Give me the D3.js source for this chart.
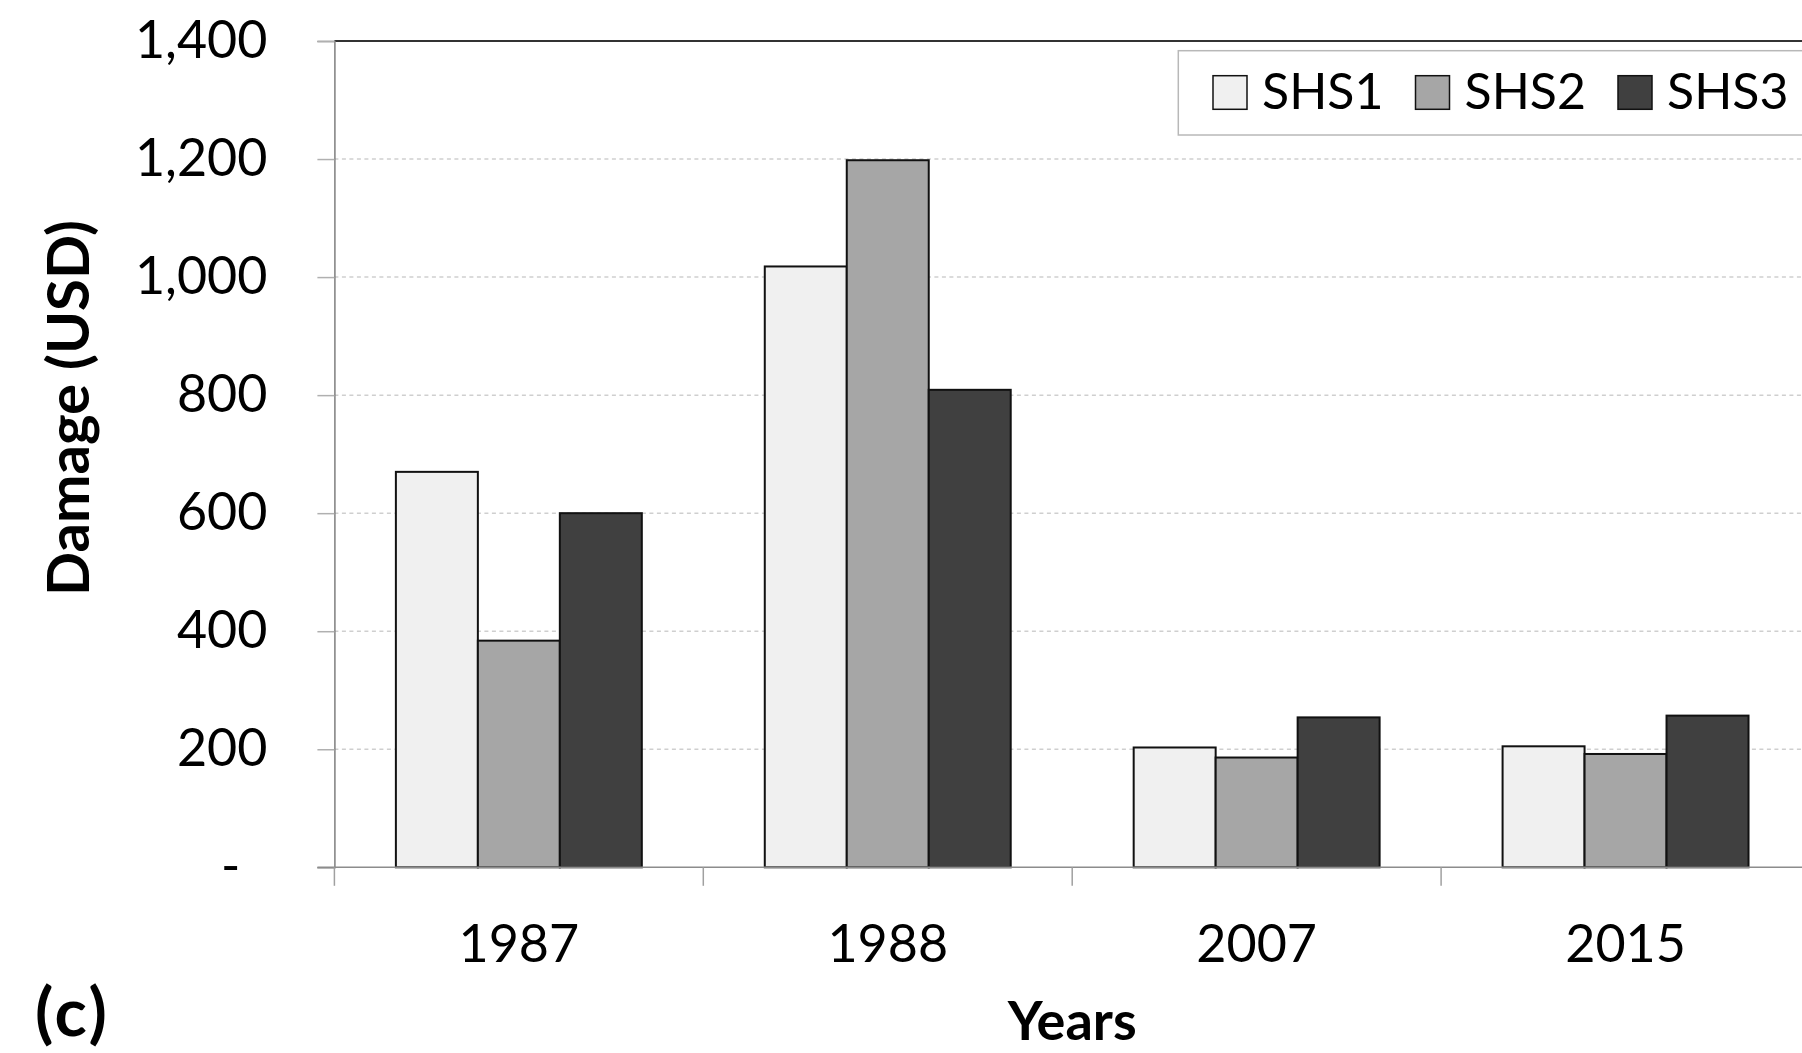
<!DOCTYPE html>
<html>
<head>
<meta charset="utf-8">
<script src="https://cdn.jsdelivr.net/npm/d3@7"></script>
<style>
  html, body { margin: 0; padding: 0; background: #fff; }
  svg { display: block; }
  text { font-family: Lato, "Open Sans", "Liberation Sans", sans-serif; }
</style>
</head>
<body>
<svg id="chart" width="1802" height="1053"></svg>
<script>
// ---- data ----
const categories = ["1987", "1988", "2007", "2015"];
const seriesNames = ["SHS1", "SHS2", "SHS3"];
const shs1 = [670, 1018, 203, 205];
const shs2 = [384, 1198, 186, 192];
const shs3 = [600, 809, 254, 257];
const yTicks = [0, 200, 400, 600, 800, 1000, 1200, 1400];
const seriesColors = ["#f0f0f0", "#a6a6a6", "#404040"];

const seriesValues = [shs1, shs2, shs3];

// ---- layout ----
const W = 1802, H = 1053;
const plotLeft = 334.4, plotTop = 41, plotBottom = 867.3;
const step = 368.9;
const plotRight = plotLeft + step * categories.length;

const svg = d3.select("#chart");
svg.append("rect").attr("width", W).attr("height", H).attr("fill", "#fff");

const y = d3.scaleLinear().domain([0, 1400]).range([plotBottom, plotTop]);
const x0 = d3.scaleBand().domain(categories).range([plotLeft, plotRight])
  .paddingInner(1 / 3).paddingOuter(1 / 6);
const x1 = d3.scaleBand().domain(seriesNames).range([0, x0.bandwidth()]);
const color = d3.scaleOrdinal().domain(seriesNames).range(seriesColors);

// gridlines
svg.append("g")
  .selectAll("line")
  .data(yTicks.filter(v => v > 0 && v < 1400))
  .join("line")
  .attr("x1", plotLeft).attr("x2", plotRight)
  .attr("y1", d => y(d)).attr("y2", d => y(d))
  .attr("stroke", "#cfcfcf").attr("stroke-width", 1.5)
  .attr("stroke-dasharray", "4,3.5");

// top border
svg.append("line")
  .attr("x1", plotLeft).attr("x2", plotRight)
  .attr("y1", y(1400)).attr("y2", y(1400))
  .attr("stroke", "#333").attr("stroke-width", 2);

// y axis
const yAxis = d3.axisLeft(y).tickValues(yTicks).tickSize(17).tickPadding(50)
  .tickFormat(d => d === 0 ? "-" : d3.format(",")(d));
const gy = svg.append("g").attr("transform", `translate(${plotLeft},0)`).call(yAxis);
gy.select(".domain").attr("stroke", "#7f7f7f").attr("stroke-width", 1.5);
gy.selectAll(".tick line").attr("stroke", "#b0b0b0").attr("stroke-width", 1.5);
gy.selectAll(".tick text")
  .attr("font-size", 52).attr("fill", "#000")
  .attr("font-family", "Lato, 'Open Sans', sans-serif")
  .attr("dx", d => d === 0 ? -27 : 0);

// bars
const groups = svg.append("g")
  .selectAll("g")
  .data(categories)
  .join("g")
  .attr("transform", d => `translate(${x0(d)},0)`);

groups.selectAll("rect")
  .data((c, i) => seriesNames.map((s, j) => ({ s, v: seriesValues[j][i] })))
  .join("rect")
  .attr("x", d => x1(d.s))
  .attr("width", x1.bandwidth())
  .attr("y", d => y(d.v))
  .attr("height", d => y(0) - y(d.v))
  .attr("fill", d => color(d.s))
  .attr("stroke", "#111").attr("stroke-width", 2);

// x axis line and ticks
svg.append("line")
  .attr("x1", plotLeft - 17).attr("x2", plotRight)
  .attr("y1", y(0)).attr("y2", y(0))
  .attr("stroke", "#8c8c8c").attr("stroke-width", 1.5);

const boundaries = categories.map(c => x0(c) - x0.step() / 6).concat([plotRight]);
svg.append("g").selectAll("line")
  .data(boundaries)
  .join("line")
  .attr("x1", d => d).attr("x2", d => d)
  .attr("y1", y(0)).attr("y2", y(0) + 18.5)
  .attr("stroke", "#a0a0a0").attr("stroke-width", 1.5);

svg.append("g").selectAll("text")
  .data(categories)
  .join("text")
  .attr("x", d => x0(d) + x0.bandwidth() / 2)
  .attr("y", 961.5)
  .attr("text-anchor", "middle")
  .attr("font-size", 52)
  .attr("fill", "#000")
  .text(d => d);

// axis titles
svg.append("text")
  .attr("x", (plotLeft + plotRight) / 2).attr("y", 1040)
  .attr("text-anchor", "middle")
  .attr("font-size", 54).attr("font-weight", "bold")
  .text("Years");

svg.append("text")
  .attr("transform", "translate(89,408) rotate(-90)")
  .attr("text-anchor", "middle")
  .attr("font-size", 58).attr("font-weight", "bold")
  .text("Damage (USD)");

svg.append("text")
  .attr("x", 35).attr("y", 1036)
  .attr("font-size", 67).attr("font-weight", "bold")
  .attr("letter-spacing", 3)
  .text("(c)");

// legend
const legend = svg.append("g");
legend.append("rect")
  .attr("x", 1178.3).attr("y", 50.7)
  .attr("width", 700).attr("height", 84.3)
  .attr("fill", "#fff").attr("stroke", "#b8b8b8").attr("stroke-width", 1.5);

const item = legend.selectAll("g.item")
  .data(seriesNames)
  .join("g")
  .attr("class", "item")
  .attr("transform", (d, i) => `translate(${1213 + i * 202.5},0)`);

item.append("rect")
  .attr("x", 0).attr("y", 75.7)
  .attr("width", 34).attr("height", 33.6)
  .attr("fill", d => color(d))
  .attr("stroke", "#111").attr("stroke-width", 1.5);

item.append("text")
  .attr("x", 49).attr("y", 109.3)
  .attr("font-size", 50).attr("fill", "#000")
  .text(d => d);
</script>
</body>
</html>
